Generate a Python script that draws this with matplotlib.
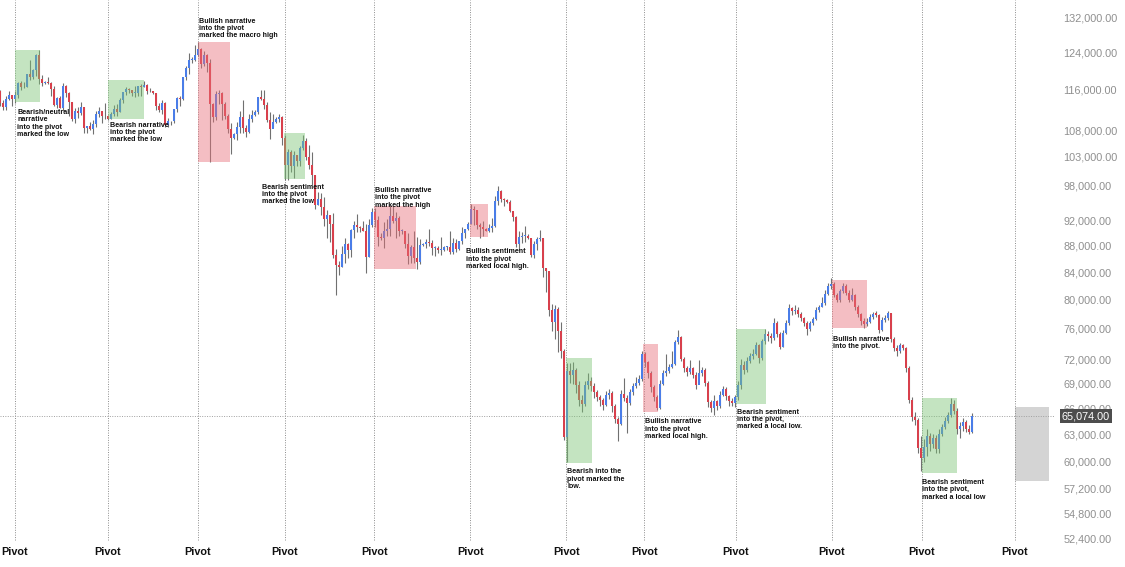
import matplotlib.pyplot as plt
from matplotlib.patches import Rectangle
from matplotlib.ticker import NullLocator

plt.rcParams['font.family'] = ['Liberation Sans', 'DejaVu Sans']

# daily candles, prices in thousands (open = previous close)
first_open = 115.7
closes = [
    # Aug
    113.3, 112.5, 114.2, 115.0, 114.1, 115.0, 117.5, 116.6, 116.5, 119.3,
    118.7, 120.2, 123.3, 118.3, 117.4, 117.5, 117.4, 116.2, 112.9, 114.3,
    112.4, 116.9, 115.4, 113.5, 110.1, 111.8, 111.3, 112.6, 108.4, 108.8, 108.3,
    # Sep
    109.2, 111.2, 111.7, 110.7, 110.7, 110.2, 111.2, 112.1, 111.5, 113.9,
    115.5, 116.1, 115.9, 115.4, 115.4, 116.8, 116.5, 117.1, 115.7, 115.7,
    115.3, 112.7, 112.0, 113.3, 109.0, 109.7, 109.7, 112.1, 114.4, 114.1,
    # Oct
    118.6, 120.6, 122.3, 122.4, 123.5, 124.8, 121.5, 123.3, 121.7, 113.2,
    110.6, 115.2, 115.3, 113.1, 110.8, 108.2, 106.5, 107.2, 108.7, 110.6,
    108.5, 107.6, 110.1, 111.0, 111.6, 114.5, 114.1, 112.9, 110.0, 108.3, 109.6,
    # Nov
    110.1, 110.6, 106.6, 101.5, 103.9, 101.3, 103.3, 102.3, 104.7, 106.0,
    103.0, 101.6, 99.7, 94.6, 95.6, 94.2, 92.2, 92.9, 91.5, 86.6,
    85.1, 84.7, 86.8, 88.3, 87.3, 90.5, 91.3, 90.9, 90.8, 90.4,
    # Dec
    86.3, 91.3, 93.5, 92.1, 89.4, 89.3, 90.4, 90.6, 92.7, 92.0,
    92.5, 90.3, 90.3, 88.2, 86.4, 87.8, 86.1, 85.5, 88.1, 88.3,
    88.6, 88.5, 87.6, 87.6, 87.3, 87.3, 87.8, 87.8, 87.1, 88.4, 87.5,
    # Jan
    88.7, 90.0, 90.6, 91.4, 93.9, 93.7, 91.3, 91.0, 90.6, 90.4,
    90.8, 91.1, 95.3, 97.0, 95.6, 95.5, 95.1, 93.6, 92.6, 88.3,
    89.4, 89.5, 89.5, 89.2, 86.6, 88.3, 89.1, 89.2, 84.6, 84.1, 78.6,
    # Feb onwards
    76.9, 78.7, 75.6, 73.0, 62.7, 70.5,
    70.0, 70.6, 68.8, 67.0, 66.5, 68.7, 69.2, 68.6, 67.9, 67.3,
    66.9, 66.4, 67.5, 67.8, 66.3, 64.7, 64.2, 67.7, 67.2, 66.6,
    67.9, 68.6, 69.0, 69.5, 72.6, 71.6, 70.2, 68.5, 67.3, 66.0,
    68.9, 70.2, 70.5, 71.0, 71.4, 74.2, 74.8, 72.0, 70.9, 70.3,
    70.9, 70.0, 68.7, 70.2, 70.6, 69.0, 66.7, 66.0, 66.8, 66.2,
    67.6, 68.3, 67.4, 66.8, 66.6, 67.3, 68.7, 71.2, 70.6, 71.8,
    72.4, 72.7, 73.8, 72.1, 74.3, 75.3, 75.0, 74.7, 76.8, 75.2,
    73.6, 75.4, 76.8, 78.8, 78.4, 78.6, 78.0, 77.4, 76.8, 75.9,
    76.7, 77.3, 78.5, 78.9, 79.5, 80.8, 81.9, 82.3, 80.6, 79.9,
    81.2, 82.0, 81.0, 80.0, 80.6, 79.0, 78.0, 77.0, 76.6, 76.9,
    77.6, 78.0, 77.9, 75.8, 77.2, 77.4, 78.1, 74.6, 73.4, 73.0,
    73.8, 73.4, 70.8, 67.0, 65.0, 64.6, 61.5, 60.4, 61.6, 62.8,
    61.9, 62.6, 61.4, 63.0, 63.8, 64.5, 65.2, 66.5, 65.7, 63.6,
    63.9, 64.4, 63.6, 63.3, 65.074,
]
highs = [
    116.0, 114.0, 114.7, 115.7, 115.0, 115.7, 117.6, 117.9, 117.6, 119.3,
    122.3, 120.3, 123.7, 124.4, 119.2, 117.9, 118.6, 117.6, 116.8, 114.6,
    114.8, 117.4, 117.0, 115.6, 113.6, 112.3, 112.6, 113.5, 112.6, 108.9, 109.5,
    109.9, 111.8, 112.6, 111.8, 113.4, 110.9, 111.5, 112.9, 113.2, 114.3,
    115.5, 116.6, 116.3, 116.0, 116.8, 116.9, 117.3, 117.9, 117.2, 116.3,
    115.8, 115.4, 113.3, 114.0, 113.5, 110.3, 109.8, 112.2, 114.5, 114.8,
    118.6, 121.0, 123.9, 122.9, 125.7, 126.2, 125.0, 124.2, 123.7, 122.5,
    113.4, 115.8, 116.0, 115.5, 113.6, 111.1, 109.3, 107.5, 109.5, 111.7,
    114.0, 109.0, 111.2, 112.0, 111.9, 114.5, 116.0, 116.0, 113.6, 111.6, 111.2,
    110.6, 111.2, 110.8, 107.0, 104.5, 104.2, 104.1, 103.4, 105.0, 107.0,
    106.6, 105.3, 104.0, 99.8, 96.8, 96.6, 96.0, 93.8, 93.0, 93.2,
    87.5, 85.6, 88.0, 89.2, 88.5, 90.6, 91.9, 93.1, 91.2, 92.0,
    91.5, 92.3, 94.1, 94.1, 92.7, 90.0, 91.8, 92.3, 94.6, 94.4,
    93.5, 92.7, 90.6, 90.3, 90.0, 88.1, 90.3, 89.4, 89.0, 88.5,
    89.0, 90.6, 88.9, 87.9, 88.0, 89.4, 87.9, 88.0, 90.3, 89.3, 89.0,
    88.8, 90.9, 90.7, 91.8, 94.8, 94.4, 93.7, 91.6, 91.9, 90.8,
    91.5, 92.4, 96.2, 97.9, 97.2, 95.8, 95.6, 95.5, 93.4, 92.8,
    90.4, 90.2, 91.2, 89.8, 89.2, 88.8, 89.4, 90.5, 89.2, 84.6, 84.2,
    79.4, 79.3, 79.0, 76.9, 73.3, 71.5,
    71.5, 71.6, 70.9, 69.2, 67.6, 69.2, 70.2, 69.8, 69.0, 68.2,
    67.6, 67.2, 68.0, 68.3, 68.0, 66.5, 65.0, 68.1, 69.6, 67.5,
    68.3, 69.0, 69.8, 70.0, 73.0, 72.9, 71.8, 70.5, 68.7, 67.5,
    69.4, 70.6, 72.6, 71.4, 73.0, 74.5, 75.8, 75.0, 72.2, 71.1,
    71.9, 71.0, 70.3, 71.9, 71.0, 70.9, 69.2, 67.0, 67.5, 67.0,
    68.0, 68.6, 68.5, 67.6, 67.2, 67.6, 69.2, 72.0, 71.8, 72.3,
    72.8, 73.3, 74.2, 74.0, 74.6, 75.9, 75.7, 75.4, 77.4, 77.0,
    75.5, 75.8, 77.2, 79.4, 79.0, 79.2, 78.9, 78.3, 77.6, 77.0,
    77.0, 77.6, 79.0, 79.3, 80.3, 81.3, 82.4, 83.1, 82.5, 81.0,
    81.5, 82.4, 82.3, 81.3, 81.6, 80.8, 79.2, 78.1, 77.4, 77.4,
    78.0, 78.3, 78.4, 78.0, 77.6, 77.8, 78.4, 78.1, 74.8, 73.8,
    74.1, 74.0, 73.6, 71.1, 67.3, 65.5, 64.8, 62.8, 62.5, 63.6,
    63.2, 63.0, 62.9, 63.6, 64.2, 65.0, 65.6, 67.2, 67.0, 66.0,
    64.4, 64.8, 64.6, 64.1, 65.4,
]
lows = [
    112.7, 112.0, 112.0, 114.0, 112.7, 113.4, 114.3, 115.9, 116.3, 116.5,
    118.1, 118.2, 118.9, 117.2, 116.8, 117.2, 117.3, 114.7, 112.7, 112.4,
    112.4, 111.7, 114.6, 110.7, 109.8, 109.3, 110.4, 110.9, 107.5, 107.5, 108.1,
    107.3, 108.6, 110.6, 109.3, 110.2, 110.0, 110.2, 110.8, 110.8, 111.6,
    113.4, 114.9, 115.3, 114.8, 114.5, 114.8, 114.7, 116.5, 115.2, 115.5,
    115.1, 111.9, 111.5, 111.1, 108.7, 108.6, 109.1, 109.3, 111.6, 112.7,
    113.9, 118.1, 119.3, 121.6, 122.2, 123.1, 120.6, 121.1, 119.7, 102.0,
    109.6, 109.9, 113.1, 109.9, 110.2, 107.5, 103.5, 106.4, 106.2, 107.5,
    107.5, 106.7, 107.5, 109.5, 110.8, 111.2, 113.9, 112.2, 109.5, 106.3, 108.6,
    109.4, 109.5, 105.3, 98.9, 98.9, 100.3, 99.3, 101.4, 101.4, 104.3,
    102.5, 100.8, 98.0, 94.0, 94.6, 93.0, 91.2, 89.3, 88.6, 86.1,
    80.6, 83.5, 84.7, 85.3, 86.1, 86.3, 89.2, 90.2, 90.2, 90.3,
    83.8, 86.2, 91.0, 91.0, 88.0, 88.9, 87.7, 89.6, 89.6, 91.6,
    89.3, 89.6, 89.9, 87.6, 85.2, 85.3, 85.3, 84.4, 85.2, 88.0,
    87.6, 87.9, 86.6, 86.4, 86.9, 86.6, 87.2, 87.4, 86.7, 86.8, 87.0,
    87.4, 88.3, 89.3, 90.5, 91.4, 91.3, 90.6, 89.3, 89.6, 90.3,
    90.2, 90.2, 91.0, 94.6, 95.1, 94.4, 94.9, 93.5, 91.9, 87.8,
    87.3, 88.4, 88.6, 89.0, 86.2, 86.1, 87.3, 88.7, 83.3, 81.1, 77.7,
    75.6, 74.6, 72.9, 72.1, 62.4, 60.0,
    69.0, 68.9, 67.8, 66.3, 65.6, 66.3, 68.3, 68.0, 67.2, 66.8,
    66.2, 65.8, 66.2, 67.1, 65.6, 64.3, 62.3, 64.0, 66.8, 63.2,
    66.4, 67.6, 68.4, 68.7, 69.2, 71.0, 69.6, 67.9, 66.8, 65.8,
    65.9, 68.7, 69.9, 70.2, 70.8, 71.2, 73.9, 71.7, 70.4, 69.9,
    70.1, 69.6, 68.3, 69.8, 69.9, 68.6, 66.1, 65.5, 65.2, 65.8,
    66.0, 67.4, 67.0, 66.3, 66.2, 66.1, 66.9, 68.3, 70.1, 70.4,
    71.5, 72.0, 72.5, 71.5, 71.9, 74.0, 74.3, 74.1, 74.5, 74.8,
    73.3, 73.5, 75.2, 76.5, 77.9, 78.0, 77.6, 77.0, 76.4, 75.1,
    75.6, 76.5, 77.1, 78.2, 79.0, 79.3, 80.6, 81.5, 80.3, 79.6,
    79.7, 81.0, 80.7, 79.6, 79.8, 78.6, 77.5, 76.5, 76.1, 76.3,
    76.7, 77.3, 77.5, 75.4, 75.6, 76.9, 77.1, 74.2, 73.0, 72.4,
    72.8, 73.1, 70.4, 66.6, 64.5, 64.0, 61.0, 59.0, 60.0, 60.6,
    61.2, 61.5, 61.0, 61.0, 62.8, 63.6, 64.3, 65.0, 65.3, 63.0,
    62.6, 63.4, 63.3, 63.0, 63.2,
]
opens = [first_open] + closes[:-1]

# pivot days (candle index)
pivots = [5, 36, 66, 95, 124.7, 156.7, 188.7, 214.7, 245.3, 277.3, 307.3, 338.3]

# highlighted zones: start, end (candle index), low, high (thousands)
zone_start = [5, 36, 66, 94.7, 124.7, 156.7, 188.7, 214.3, 245.3, 277.3, 307.3]
zone_end = [13.3, 48, 76.7, 101.7, 138.7, 162.7, 197.3, 219.3, 255.3, 289, 319]
zone_low = [113.5, 110.2, 102.1, 99.0, 84.4, 89.4, 59.9, 65.5, 66.5, 76.0, 58.8]
zone_high = [124.5, 118.0, 126.3, 107.5, 94.4, 94.7, 72.1, 73.9, 75.9, 82.8, 67.2]
zone_kind = ['g', 'g', 'r', 'g', 'r', 'r', 'g', 'r', 'g', 'r', 'g']

notes = [
    "Bearish/neutral\nnarrative\ninto the pivot\nmarked the low",
    "Bearish narrative\ninto the pivot\nmarked the low",
    "Bullish narrative\ninto the pivot\nmarked the macro high",
    "Bearish sentiment\ninto the pivot\nmarked the low",
    "Bullish narrative\ninto the pivot\nmarked the high",
    "Bullish sentiment\ninto the pivot\nmarked local high.",
    "Bearish into the\npivot marked the\nlow.",
    "Bullish narrative\ninto the pivot\nmarked local high.",
    "Bearish sentiment\ninto the pivot,\nmarked a local low.",
    "Bullish narrative\ninto the pivot.",
    "Bearish sentiment\ninto the pivot,\nmarked a local low",
]
note_x = [5.7, 36.7, 66.3, 87.3, 125, 155.3, 189, 215, 245.7, 277.7, 307.3]
note_y = [112.1, 109.6, 131.8, 98.2, 97.65, 87.6, 59.3, 64.8, 65.9, 75.0, 58.2]

price_ticks = [132, 124, 116, 108, 103, 98, 92, 88, 84, 80, 76, 72, 69, 66,
               63, 60, 57.2, 54.8, 52.4]
last_price = 65.074
projection = (338.3, 349.7, 58.0, 66.1)

bull = '#4a7de8'
bear = '#d8404c'

fig = plt.figure(figsize=(11.25, 5.67), dpi=100)
ax = fig.add_axes([0, 0, 1055 / 1125, 1])
ax.set_yscale('log')
ax.set_xlim(0, 1055 / 3)
ax.set_ylim(49.8, 136.04)

# candles
for i, (o, h, l, c) in enumerate(zip(opens, highs, lows, closes)):
    col = bull if c >= o else bear
    ax.vlines(i, l, h, color='#707070', lw=0.8, zorder=2)
    body = max(abs(c - o), 0.15)
    ax.bar(i, body, bottom=min(o, c), width=0.8, color=col, zorder=3, linewidth=0)

# zones
for s, e, lo, hi, k in zip(zone_start, zone_end, zone_low, zone_high, zone_kind):
    fc = '#7cc476' if k == 'g' else '#e8707a'
    ax.add_patch(Rectangle((s, lo), e - s, hi - lo, facecolor=fc, alpha=0.45,
                           edgecolor='none', zorder=4))

ax.add_patch(Rectangle((projection[0], projection[2]), projection[1] - projection[0],
                       projection[3] - projection[2], facecolor='#d4d4d4',
                       edgecolor='none', zorder=1))

# pivots
ax.vlines(pivots, 52.2, 136.04, colors='#8c8c8c', linestyles=(0, (1, 1.5)),
          lw=0.7, zorder=1)
for p in pivots:
    ax.text(p, 51.1, 'Pivot', ha='center', va='center', fontsize=7.8,
            fontweight='bold', color='#111111')

for t, x, y in zip(notes, note_x, note_y):
    ax.text(x, y, t, ha='left', va='top', fontsize=5.1, fontweight='bold',
            color='#111111', linespacing=1.05, zorder=6)

# last price
ax.axhline(last_price, color='#a0a0a0', lw=0.7, ls=(0, (1, 1.5)), zorder=1)
ax.text(1.0065, last_price, f'{last_price * 1000:,.2f}', transform=ax.get_yaxis_transform(),
        ha='left', va='center', fontsize=7.8, color='white', zorder=10, clip_on=False,
        bbox=dict(boxstyle='square,pad=0.18', fc='#4d4d4d', ec='none'))

ax.yaxis.tick_right()
ax.set_yticks(price_ticks)
ax.set_yticklabels([f'{v * 1000:,.2f}' for v in price_ticks])
ax.yaxis.set_minor_locator(NullLocator())
ax.tick_params(axis='y', length=0, pad=6, labelsize=7.8, labelcolor='#8f8f8f')
ax.set_xticks([])
for s in ax.spines.values():
    s.set_visible(False)

fig.savefig('out.png', dpi=100)
